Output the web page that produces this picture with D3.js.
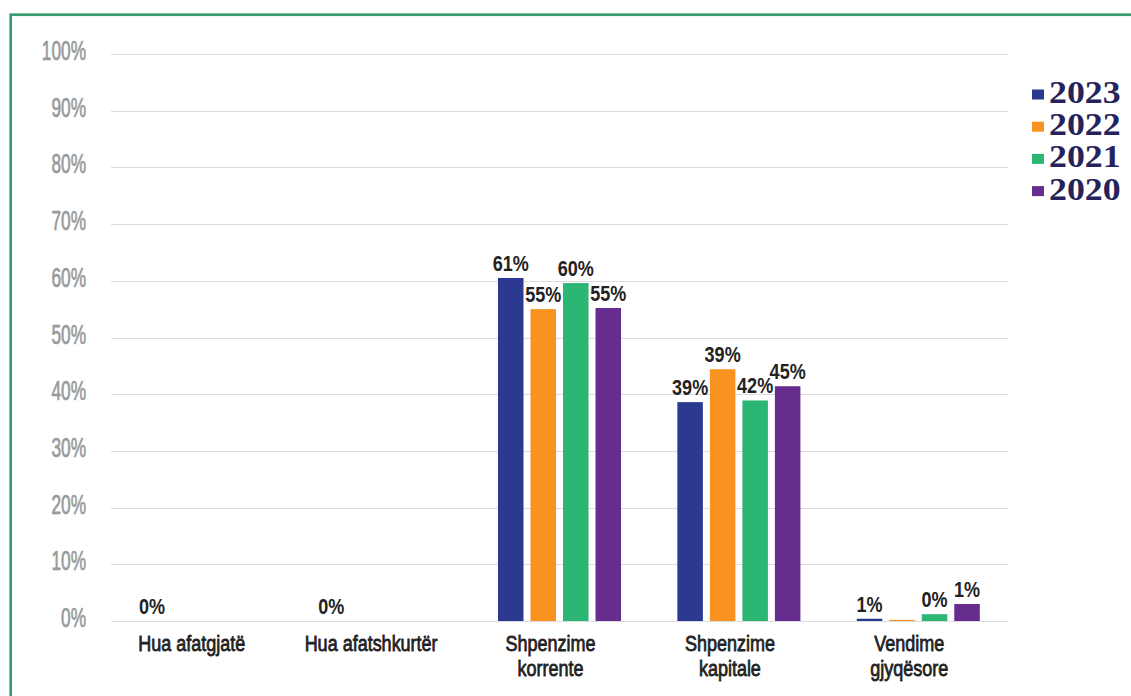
<!DOCTYPE html>
<html><head><meta charset="utf-8">
<script src="https://cdn.jsdelivr.net/npm/d3@7"></script>
<style>html,body{margin:0;padding:0;background:#fff;overflow:hidden}</style>
</head>
<body><svg id="c" width="1131" height="696"></svg>
<script>
// ---- data ----
const categories = ["Hua afatgjatë", "Hua afatshkurtër", "Shpenzime\nkorrente", "Shpenzime\nkapitale", "Vendime\ngjyqësore"];
const years = ["2023", "2022", "2021", "2020"];
const values2023 = [0, 0, 60.5, 38.6, 0.4];
const values2022 = [0, 0, 55.0, 44.4, 0.2];
const values2021 = [0, 0, 59.6, 38.9, 1.2];
const values2020 = [0, 0, 55.2, 41.4, 3.0];
const labels2023 = ["0%", "0%", "61%", "39%", "1%"];
const labels2022 = [null, null, "55%", "39%", null];
const labels2021 = [null, null, "60%", "42%", "0%"];
const labels2020 = [null, null, "55%", "45%", "1%"];
const yTicks = [0, 10, 20, 30, 40, 50, 60, 70, 80, 90, 100];
const seriesColors = ["#2b3990", "#f7931e", "#2cb673", "#662d8f"];

const seriesValues = [values2023, values2022, values2021, values2020];
const seriesLabels = [labels2023, labels2022, labels2021, labels2020];

// ---- layout ----
const svg = d3.select("#c");
const plot = {left: 111, right: 1008, top: 54, bottom: 621};
const FONT = "'Liberation Sans', Arial, sans-serif";

const x0 = d3.scaleBand().domain(categories).range([plot.left, plot.right])
  .paddingInner(0.275).paddingOuter(0.1377);
const x1 = d3.scaleBand().domain(years).range([0, x0.bandwidth()])
  .paddingInner(0.215).paddingOuter(0.1075);
const y = d3.scaleLinear().domain([0, 100]).range([plot.bottom, plot.top]);
const color = d3.scaleOrdinal().domain(years).range(seriesColors);

function sText(g, x, yy, str, opts) {
  const t = g.append("text")
    .attr("transform", `translate(${x},${yy}) scale(${opts.sx},1)`)
    .attr("text-anchor", opts.anchor || "middle")
    .attr("font-family", opts.family || FONT)
    .attr("font-size", opts.size)
    .attr("font-weight", opts.weight || "normal")
    .attr("fill", opts.fill);
  const lines = str.split("\n");
  if (lines.length === 1) t.text(str);
  else lines.forEach((ln, i) => t.append("tspan").attr("x", 0).attr("dy", i === 0 ? 0 : opts.lineH).text(ln));
  if (opts.stroke) t.attr("stroke", opts.fill).attr("stroke-width", opts.stroke).attr("stroke-linejoin", "round");
  return t;
}

// border
svg.append("rect").attr("x", 10.7).attr("y", 14.7).attr("width", 1200).attr("height", 800)
  .attr("fill", "none").attr("stroke", "#3a9b6b").attr("stroke-width", 2.7);

// grid + y ticks
const gGrid = svg.append("g");
yTicks.forEach(t => {
  gGrid.append("line").attr("x1", plot.left).attr("x2", plot.right)
    .attr("y1", Math.round(y(t)) + 0.5).attr("y2", Math.round(y(t)) + 0.5)
    .attr("stroke", "#dcdcdc").attr("stroke-width", 1.2);
  sText(gGrid, 86, y(t) + 6, t + "%", {sx: 0.64, size: 27, anchor: "end", fill: "#999", stroke: 0.7});
});

// bars
const gBars = svg.append("g");
years.forEach((yr, si) => {
  categories.forEach((cat, ci) => {
    const v = seriesValues[si][ci];
    const bx = x0(cat) + x1(yr);
    gBars.append("rect").attr("x", bx).attr("y", y(v))
      .attr("width", x1.bandwidth()).attr("height", y(0) - y(v))
      .attr("fill", color(yr));
  });
});

// value labels
const gLab = svg.append("g");
years.forEach((yr, si) => {
  categories.forEach((cat, ci) => {
    const lab = seriesLabels[si][ci];
    if (lab == null) return;
    const v = seriesValues[si][ci];
    const cx = x0(cat) + x1(yr) + x1.bandwidth() / 2;
    sText(gLab, cx, y(v) - 7, lab, {sx: 0.82, size: 22, weight: "bold", fill: "#222"});
  });
});

// category labels (multi-line as tspans in one text)
const gCat = svg.append("g");
categories.forEach(cat => {
  const cx = x0(cat) + x0.bandwidth() / 2 - 9;
  sText(gCat, cx, 651, cat, {sx: 0.8, size: 22.5, fill: "#222", stroke: 0.8, lineH: 25});
});

// legend
const gLeg = svg.append("g");
years.forEach((yr, i) => {
  const base = 103 + i * 32.2;
  gLeg.append("rect").attr("x", 1032).attr("y", base - 13.5).attr("width", 12).attr("height", 10)
    .attr("fill", color(yr));
  sText(gLeg, 1049, base, yr, {sx: 1.12, size: 32, weight: "bold", anchor: "start",
    family: "'Liberation Serif', 'Times New Roman', serif", fill: "#27235a"});
});
</script>
</body></html>
